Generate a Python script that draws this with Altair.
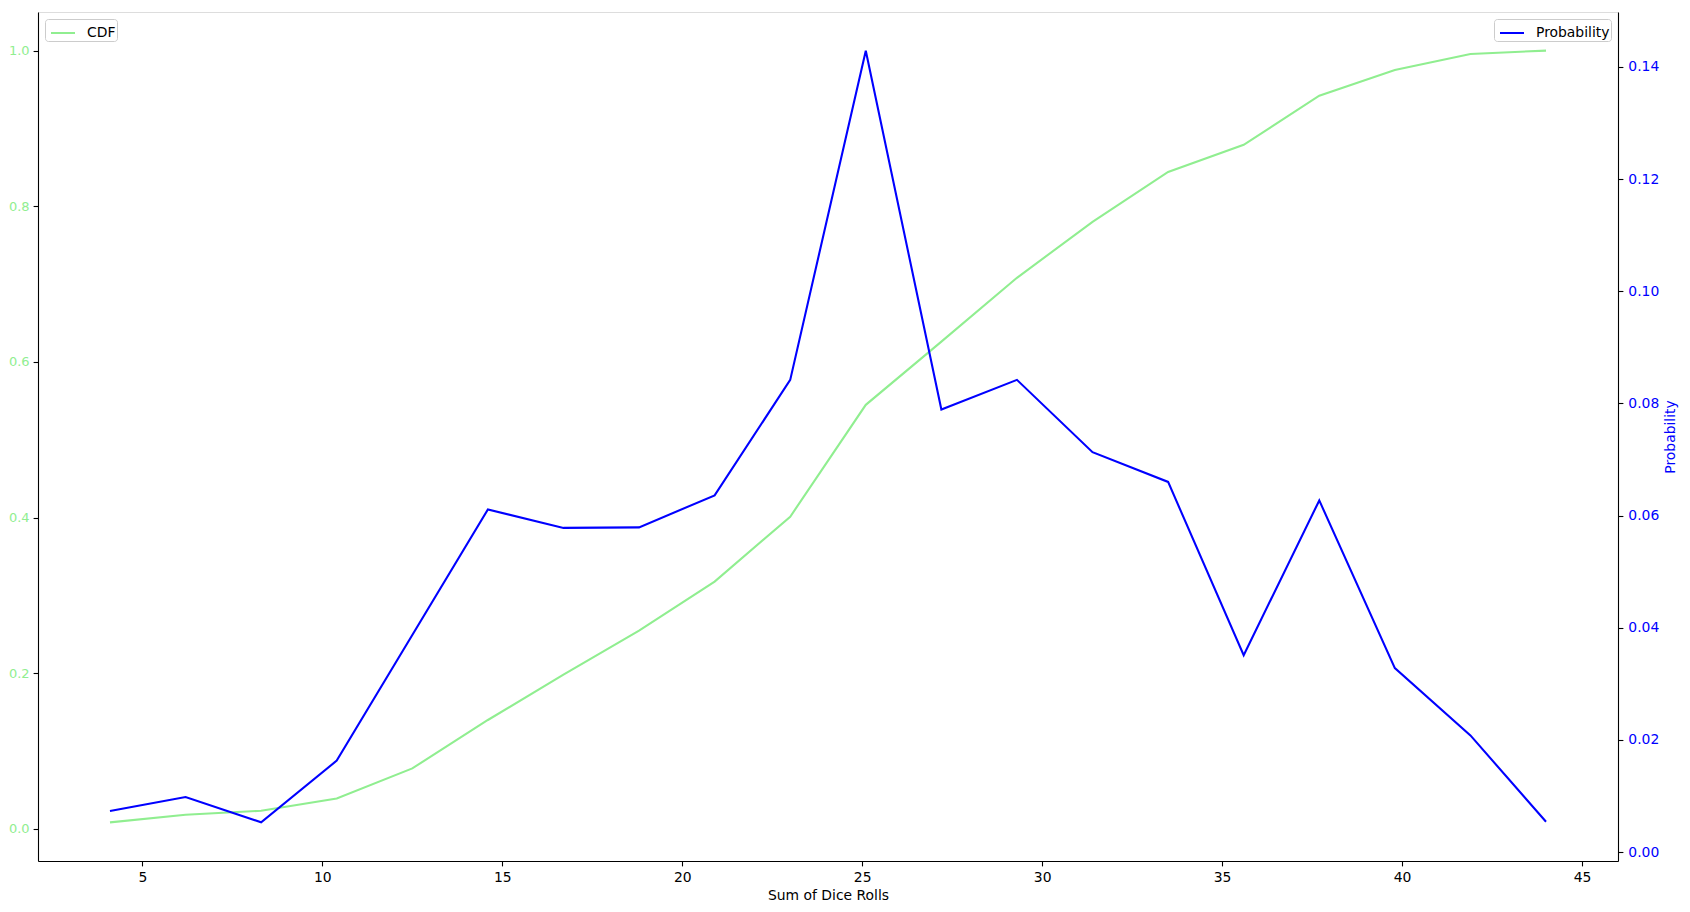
import altair as alt
import pandas as pd

# Data
sums = [4.1, 6.2, 8.3, 10.4, 12.5, 14.6, 16.7, 18.8, 20.9, 23.0,
        25.1, 27.2, 29.3, 31.4, 33.5, 35.6, 37.7, 39.8, 41.9, 44.0]
probability = [0.0073, 0.0098, 0.0053, 0.0163, 0.0387, 0.0611, 0.0578, 0.0579, 0.0636, 0.0842,
               0.1429, 0.0789, 0.0842, 0.0713, 0.0660, 0.0351, 0.0627, 0.0328, 0.0208, 0.0054]
cdf = [0.0082, 0.0180, 0.0232, 0.0390, 0.0776, 0.1398, 0.1980, 0.2546, 0.3176, 0.4010,
       0.5448, 0.6260, 0.7080, 0.7800, 0.8440, 0.8790, 0.9420, 0.9750, 0.9957, 1.0000]

x_ticks = [5, 10, 15, 20, 25, 30, 35, 40, 45]
cdf_ticks = [0.0, 0.2, 0.4, 0.6, 0.8, 1.0]
prob_ticks = [0.00, 0.02, 0.04, 0.06, 0.08, 0.10, 0.12, 0.14]

df = pd.DataFrame({"x": sums, "cdf": cdf, "prob": probability})

FONT = "DejaVu Sans"
FS = 13.9
GREEN = "#90EE90"
BLUE = "#0000FF"

x_enc = alt.X(
    "x:Q",
    scale=alt.Scale(domain=[2.1, 46.0], nice=False, zero=False),
    axis=alt.Axis(values=x_ticks, format="d", title="Sum of Dice Rolls",
                  grid=False, tickSize=4.9, labelPadding=4.9, tickColor="black",
                  tickWidth=1.1, domainColor="black", domainWidth=1.1,
                  labelColor="black", labelFontSize=FS, titleFontSize=FS,
                  titleFontWeight="normal", titleColor="black", titlePadding=4,
                  labelFont=FONT, titleFont=FONT),
)

legend_common = dict(
    title=None, symbolType="stroke", symbolStrokeWidth=2, symbolSize=576,
    symbolOffset=4,
    labelFontSize=FS, labelFont=FONT, labelColor="black", labelOffset=11,
    padding=1, fillColor="white", strokeColor="#cccccc", cornerRadius=3,
    offset=7,
)

cdf_layer = alt.Chart(df).transform_calculate(series="'CDF'").mark_line(
    strokeWidth=2.08
).encode(
    x=x_enc,
    y=alt.Y(
        "cdf:Q",
        scale=alt.Scale(domain=[-0.0414, 1.0496], nice=False, zero=False),
        axis=alt.Axis(orient="left", values=cdf_ticks, format=".1f", title=None,
                      grid=False, tickSize=4.9, labelPadding=4, tickColor="black",
                      tickWidth=1.1, domainColor="black", domainWidth=1.1,
                      labelColor=GREEN, labelFontSize=13, labelFont=FONT),
    ),
    color=alt.Color("series:N", scale=alt.Scale(domain=["CDF"], range=[GREEN]),
                    legend=alt.Legend(orient="top-left", **legend_common)),
)

prob_layer = alt.Chart(df).transform_calculate(series="'Probability'").mark_line(
    strokeWidth=2.08
).encode(
    x=x_enc,
    y=alt.Y(
        "prob:Q",
        scale=alt.Scale(domain=[-0.0016, 0.1498], nice=False, zero=False),
        axis=alt.Axis(orient="right", values=prob_ticks, format=".2f", title="Probability",
                      grid=False, tickSize=4.9, labelPadding=4.9, tickColor="black",
                      tickWidth=1.1, domainColor="black", domainWidth=1.1,
                      labelColor=BLUE, labelFontSize=FS, labelFont=FONT,
                      titleColor=BLUE, titleFontSize=FS, titleFont=FONT,
                      titleFontWeight="normal", titleAngle=270, titlePadding=19),
    ),
    color=alt.Color("series:N", scale=alt.Scale(domain=["Probability"], range=[BLUE]),
                    legend=alt.Legend(orient="top-right", **legend_common)),
)

chart = alt.layer(cdf_layer, prob_layer).resolve_scale(
    y="independent", color="independent"
).resolve_legend(color="independent").properties(
    width=1580, height=849,
    autosize=alt.AutoSizeParams(type="none"),
    padding={"left": 30, "top": 4, "right": 62, "bottom": 42},
).configure_view(
    stroke="black", strokeWidth=1.1
).configure(font=FONT)

chart.save("out.html", embed_options={"renderer": "svg", "actions": False})
